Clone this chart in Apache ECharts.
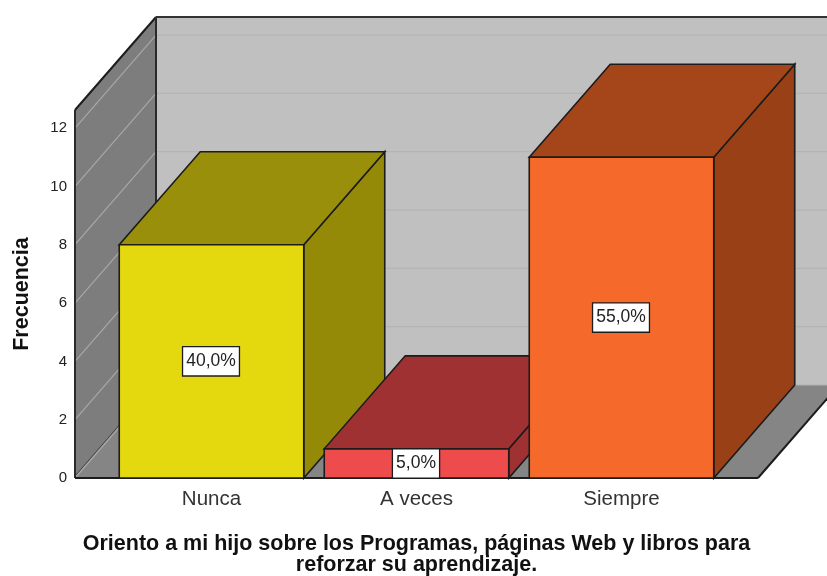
<!DOCTYPE html>
<html>
<head>
<meta charset="utf-8">
<title>Frecuencia</title>
<style>
  html, body { margin: 0; padding: 0; background: #fff; }
  #chart { width: 827px; height: 576px; }
</style>
<script src="https://cdn.jsdelivr.net/npm/echarts@6/dist/echarts.min.js"></script>
</head>
<body>
<div id="chart"></div>
<script>
const categories = ['Nunca', 'A veces', 'Siempre']
const frequencies = [8, 1, 11]
const percentLabels = ['40,0%', '5,0%', '55,0%']
const gridTicks = [0, 2, 4, 6, 8, 10, 12]
const wallTopValue = 12.62

const barColors = [
  { front: '#e4d90e', top: '#9a8f0b', side: '#958a08' },
  { front: '#ee4b4d', top: '#a03133', side: '#a03133' },
  { front: '#f5692b', top: '#a5461a', side: '#9a4017' }
]

const FONT = '"Liberation Sans", Arial, sans-serif'
const DEPTH_X = 81
const DEPTH_Y = 93
const AXIS_PAD = 34
const EDGE = '#1c1c1c'

const chart = echarts.init(document.getElementById('chart'))

function poly (points, fill, stroke, lineWidth) {
  return {
    type: 'polygon',
    shape: { points },
    style: { fill, stroke: stroke || null, lineWidth: lineWidth || 0 }
  }
}

function line (a, b, stroke, lineWidth) {
  return {
    type: 'line',
    shape: { x1: a[0], y1: a[1], x2: b[0], y2: b[1] },
    style: { stroke, lineWidth }
  }
}

function back (p) {
  return [p[0] + DEPTH_X, p[1] - DEPTH_Y]
}

// walls, floor and grid lines of the fake 3d box
function renderWalls (params, api) {
  const sys = params.coordSys
  const left = sys.x - AXIS_PAD
  const right = sys.x + sys.width + AXIS_PAD
  const y0 = api.coord([0, 0])[1]
  const yTop = api.coord([0, wallTopValue])[1]
  const a = [left, y0]
  const b = [left, yTop]
  const c = [right, y0]
  const d = [right + DEPTH_X, yTop]
  const children = [
    poly([back(a), back(b), [d[0], back(b)[1]], [d[0], back(a)[1]]], '#c0c0c0'),
    poly([a, b, back(b), back(a)], '#7d7d7d'),
    poly([a, back(a), back(c), c], '#858585')
  ]
  gridTicks.forEach(v => {
    const y = api.coord([0, v])[1]
    children.push(line([left, y], back([left, y]), '#a8a8a8', 1.2))
    children.push(line(back([left, y]), back([right, y]), '#b4b4b4', 1.2))
  })
  // thin dark seam next to the light floor line on the left wall
  children.push(line([a[0], a[1] - 2], [back(a)[0], back(a)[1] - 2], '#444', 1))
  children.push(line(b, back(b), EDGE, 2))
  children.push(line(back(b), [d[0], back(b)[1]], '#333', 2))
  children.push(line(back(a), back(b), '#2a2a2a', 2))
  children.push(line(a, b, '#2a2a2a', 2))
  children.push(line(c, back(c), EDGE, 2))
  children.push(line(a, c, EDGE, 2))
  return { type: 'group', children }
}

function renderBar (params, api) {
  const idx = api.value(0)
  const val = api.value(1)
  const colors = barColors[idx]
  const center = api.coord([idx, 0])
  const half = api.size([1, 0])[0] * 0.45
  const yTop = api.coord([idx, val])[1]
  const fl = [center[0] - half, center[1]]
  const fr = [center[0] + half, center[1]]
  const tl = [fl[0], yTop]
  const tr = [fr[0], yTop]
  return {
    type: 'group',
    children: [
      poly([fr, tr, back(tr), back(fr)], colors.side, EDGE, 1.6),
      poly([tl, tr, back(tr), back(tl)], colors.top, EDGE, 1.6),
      poly([fl, tl, tr, fr], colors.front, EDGE, 1.6),
      {
        type: 'text',
        style: {
          text: percentLabels[idx],
          x: center[0] - 0.5,
          y: (yTop + center[1]) / 2,
          align: 'center',
          verticalAlign: 'middle',
          font: '17.5px ' + FONT,
          fill: '#222',
          backgroundColor: '#fff',
          borderColor: EDGE,
          borderWidth: 1.3,
          padding: [5, 3]
        }
      }
    ]
  }
}

chart.setOption({
  animation: false,
  textStyle: { fontFamily: FONT },
  grid: { left: 109, width: 615, top: 110, height: 368, outerBoundsMode: 'none' },
  xAxis: {
    type: 'category',
    data: categories,
    axisLine: { show: false },
    axisTick: { show: false },
    axisLabel: { color: '#333', fontSize: 20.5, fontFamily: FONT, margin: 11 },
    name: 'Oriento a mi hijo sobre los Programas, páginas Web y libros para\nreforzar su aprendizaje.',
    nameLocation: 'middle',
    nameGap: 56,
    nameTextStyle: { color: '#111', fontSize: 21.5, fontWeight: 'bold', fontFamily: FONT, lineHeight: 21, verticalAlign: 'top' }
  },
  yAxis: {
    type: 'value',
    min: 0,
    max: wallTopValue,
    interval: 2,
    offset: AXIS_PAD,
    axisLine: { show: false },
    axisTick: { show: false },
    splitLine: { show: false },
    axisLabel: { color: '#222', fontSize: 15, fontFamily: FONT, margin: 8, showMaxLabel: false, padding: [2, 0, 0, 0] },
    name: 'Frecuencia',
    nameLocation: 'middle',
    nameGap: 42,
    nameTextStyle: { color: '#111', fontSize: 21.5, fontWeight: 'bold', fontFamily: FONT }
  },
  series: [
    {
      type: 'custom',
      renderItem: renderWalls,
      silent: true,
      z: 1,
      data: [[0, 0]],
      encode: { x: 0, y: 1 }
    },
    {
      type: 'custom',
      renderItem: renderBar,
      z: 2,
      data: frequencies.map((v, i) => [i, v]),
      encode: { x: 0, y: 1 }
    }
  ]
})
</script>
</body>
</html>
